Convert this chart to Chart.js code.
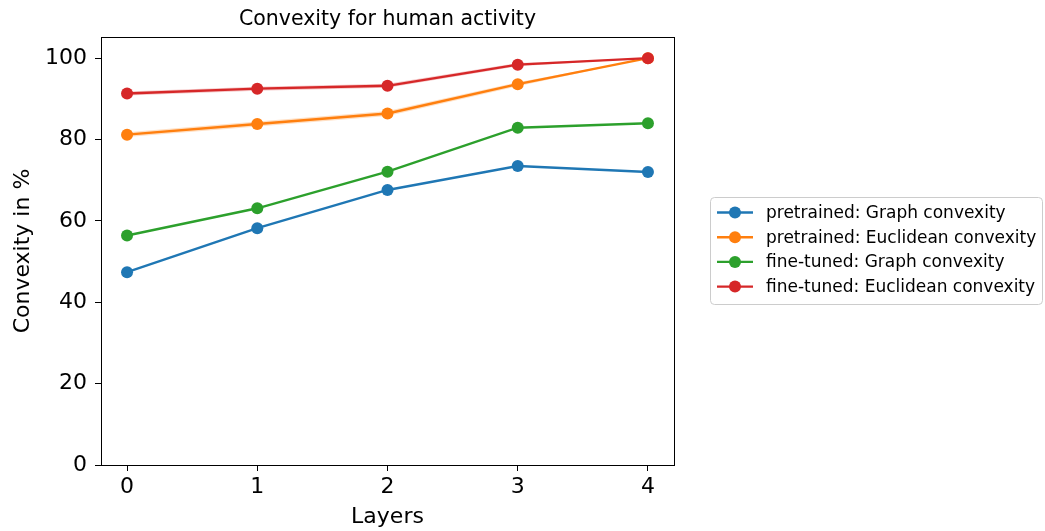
<!DOCTYPE html>
<html>
<head>
<meta charset="utf-8">
<script src="https://cdn.jsdelivr.net/npm/chart.js@4.4.0/dist/chart.umd.min.js"></script>
<style>
  html, body { margin: 0; padding: 0; background: #fff; }
</style>
</head>
<body>
<canvas id="chart" width="1045" height="531"></canvas>
<script>
// --- data ---
const layers = [0, 1, 2, 3, 4];
const yTicks = [0, 20, 40, 60, 80, 100];
const preGraph = [47.4, 58.2, 67.6, 73.5, 72.0];
const preEucl = [81.2, 83.8, 86.4, 93.6, 100];
const ftGraph = [56.4, 63.1, 72.1, 82.9, 84.0];
const ftEucl = [91.3, 92.5, 93.2, 98.4, 100];
// thin spread bands around the Euclidean curves
const preEuclLow = [80.6, 83.2, 85.8, 93.1, 100];
const preEuclHigh = [81.8, 84.4, 87.0, 94.1, 100];
const ftEuclLow = [90.8, 92.0, 92.7, 98.0, 100];
const ftEuclHigh = [91.8, 93.0, 93.7, 98.8, 100];
const seriesLabels = [
    'pretrained: Graph convexity',
    'pretrained: Euclidean convexity',
    'fine-tuned: Graph convexity',
    'fine-tuned: Euclidean convexity'
];
const titleText = 'Convexity for human activity';
const xTitle = 'Layers';
const yTitle = 'Convexity in %';

const FONT = "'DejaVu Sans', sans-serif";
const COLORS = ['#1f77b4', '#ff7f0e', '#2ca02c', '#d62728'];

const pts = (arr) => arr.map((v, i) => ({ x: layers[i], y: v }));

function lineSet(label, values, color, order) {
    return {
        label: label,
        data: pts(values),
        borderColor: color,
        backgroundColor: color,
        borderWidth: 2.4,
        pointRadius: 6,
        pointHoverRadius: 6,
        pointBorderWidth: 0,
        fill: false,
        tension: 0,
        order: order
    };
}

function bandSet(values, color, fill) {
    return {
        label: '',
        data: pts(values),
        borderWidth: 0,
        borderColor: 'rgba(0,0,0,0)',
        backgroundColor: color,
        pointRadius: 0,
        fill: fill,
        tension: 0,
        order: 10
    };
}

// frame, title and legend box like matplotlib
const decor = {
    id: 'decor',
    afterDraw(chart) {
        const c = chart.ctx;
        const a = chart.chartArea;
        c.save();
        c.strokeStyle = '#000';
        c.lineWidth = 1;
        c.strokeRect(Math.round(a.left) + 0.5, Math.round(a.top) + 0.5,
                     Math.round(a.right - a.left), Math.round(a.bottom - a.top));

        c.fillStyle = '#000';
        c.font = '20.5px ' + FONT;
        c.textAlign = 'center';
        c.textBaseline = 'middle';
        c.fillText(titleText, (a.left + a.right) / 2, 20);

        // legend
        const bx = 710, by = 197, bw = 332, bh = 107;
        c.beginPath();
        c.roundRect(bx + 0.5, by + 0.5, bw, bh, 4);
        c.fillStyle = 'rgba(255,255,255,0.8)';
        c.fill();
        c.strokeStyle = '#cccccc';
        c.stroke();
        c.font = '17px ' + FONT;
        c.textAlign = 'left';
        seriesLabels.forEach((lab, i) => {
            const y = 212.5 + i * 24.7;
            c.strokeStyle = COLORS[i];
            c.lineWidth = 2.4;
            c.beginPath();
            c.moveTo(717, y);
            c.lineTo(753, y);
            c.stroke();
            c.fillStyle = COLORS[i];
            c.beginPath();
            c.arc(735, y, 6, 0, Math.PI * 2);
            c.fill();
            c.fillStyle = '#000';
            c.fillText(lab, 766, y + 1);
        });
        c.restore();
    }
};

const chart = new Chart(document.getElementById('chart').getContext('2d'), {
    type: 'line',
    data: {
        datasets: [
            lineSet(seriesLabels[0], preGraph, COLORS[0], 4),
            lineSet(seriesLabels[1], preEucl, COLORS[1], 3),
            lineSet(seriesLabels[2], ftGraph, COLORS[2], 2),
            lineSet(seriesLabels[3], ftEucl, COLORS[3], 1),
            bandSet(preEuclHigh, 'rgba(255,127,14,0.25)', '+1'),
            bandSet(preEuclLow, 'rgba(255,127,14,0.25)', false),
            bandSet(ftEuclHigh, 'rgba(214,39,40,0.25)', '+1'),
            bandSet(ftEuclLow, 'rgba(214,39,40,0.25)', false)
        ]
    },
    options: {
        responsive: false,
        animation: false,
        devicePixelRatio: 1,
        layout: { padding: { left: 0, right: 371, top: 37, bottom: 0 } },
        plugins: {
            legend: { display: false },
            tooltip: { enabled: false },
            title: { display: false }
        },
        scales: {
            x: {
                type: 'linear',
                min: -0.2,
                max: 4.2,
                afterBuildTicks: (s) => { s.ticks = layers.map(v => ({ value: v })); },
                afterFit: (s) => { s.height = 66; },
                grid: { display: true, drawOnChartArea: false, drawTicks: true, tickLength: 6, color: '#000' },
                border: { display: false },
                ticks: { color: '#000', padding: 3, font: { family: FONT, size: 22 } },
                title: {
                    display: true, text: xTitle, color: '#000',
                    font: { family: FONT, size: 22, lineHeight: 1.2 },
                    padding: { top: 1, bottom: 1 }
                }
            },
            y: {
                type: 'linear',
                min: 0,
                max: 105.2,
                afterBuildTicks: (s) => { s.ticks = yTicks.map(v => ({ value: v })); },
                afterFit: (s) => { s.width = 101; },
                grid: { display: true, drawOnChartArea: false, drawTicks: true, tickLength: 6, color: '#000' },
                border: { display: false },
                ticks: { color: '#000', padding: 8, font: { family: FONT, size: 22 } },
                title: {
                    display: true, text: yTitle, color: '#000',
                    font: { family: FONT, size: 22, lineHeight: 1.2 },
                    padding: { top: 10, bottom: 0 }
                }
            }
        }
    },
    plugins: [decor]
});
</script>
</body>
</html>
